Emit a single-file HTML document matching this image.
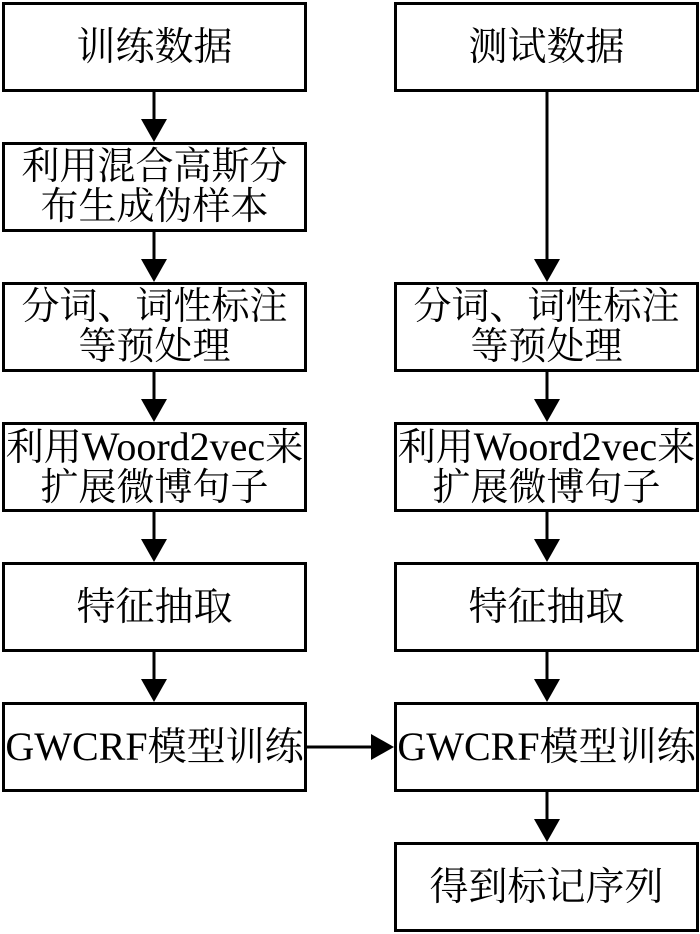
<!DOCTYPE html>
<html><head><meta charset="utf-8"><style>
html,body{margin:0;padding:0;background:#fff;}
body{width:700px;height:934px;position:relative;overflow:hidden;font-family:"Liberation Serif","Noto Serif CJK SC",serif;color:#000;}
.b{position:absolute;box-sizing:border-box;border:3px solid #000;display:flex;align-items:center;justify-content:center;text-align:center;white-space:nowrap;}
.l{left:2px;width:305px}
.r{left:394px;width:305px}
.one{font-size:39px;line-height:1}
.two{font-size:38px;line-height:40px}
.w{font-size:40px}
svg{position:absolute;left:0;top:0}
</style></head><body>
<svg width="700" height="934">
<g stroke="#000" stroke-width="3">
<line x1="154" y1="91" x2="154" y2="122"/>
<line x1="154" y1="231" x2="154" y2="262"/>
<line x1="154" y1="371" x2="154" y2="402"/>
<line x1="154" y1="511" x2="154" y2="542"/>
<line x1="154" y1="651" x2="154" y2="682"/>
<line x1="547" y1="91" x2="547" y2="262"/>
<line x1="547" y1="371" x2="547" y2="402"/>
<line x1="547" y1="511" x2="547" y2="542"/>
<line x1="547" y1="651" x2="547" y2="682"/>
<line x1="547" y1="791" x2="547" y2="822"/>
<line x1="307" y1="747" x2="372" y2="747"/>
</g>
<g fill="#000">
<polygon points="141,119 167,119 154,142"/>
<polygon points="141,259 167,259 154,282"/>
<polygon points="141,399 167,399 154,422"/>
<polygon points="141,539 167,539 154,562"/>
<polygon points="141,679 167,679 154,702"/>
<polygon points="534,259 560,259 547,282"/>
<polygon points="534,399 560,399 547,422"/>
<polygon points="534,539 560,539 547,562"/>
<polygon points="534,679 560,679 547,702"/>
<polygon points="534,819 560,819 547,842"/>
<polygon points="371,734 371,760 394,747"/>
</g>
</svg>
<div class="b l one" style="top:2px;height:90px">训练数据</div>
<div class="b l two" style="top:142px;height:90px">利用混合高斯分<br>布生成伪样本</div>
<div class="b l two" style="top:282px;height:90px">分词、词性标注<br>等预处理</div>
<div class="b l two" style="top:422px;height:90px"><span>利用<span class="w">Woord2vec</span>来<br>扩展微博句子</span></div>
<div class="b l one" style="top:562px;height:90px">特征抽取</div>
<div class="b l one" style="top:702px;height:90px"><span><span class="w">GWCRF</span>模型训练</span></div>
<div class="b r one" style="top:2px;height:90px">测试数据</div>
<div class="b r two" style="top:282px;height:90px">分词、词性标注<br>等预处理</div>
<div class="b r two" style="top:422px;height:90px"><span>利用<span class="w">Woord2vec</span>来<br>扩展微博句子</span></div>
<div class="b r one" style="top:562px;height:90px">特征抽取</div>
<div class="b r one" style="top:702px;height:90px"><span><span class="w">GWCRF</span>模型训练</span></div>
<div class="b r one" style="top:842px;height:90px">得到标记序列</div>
</body></html>
